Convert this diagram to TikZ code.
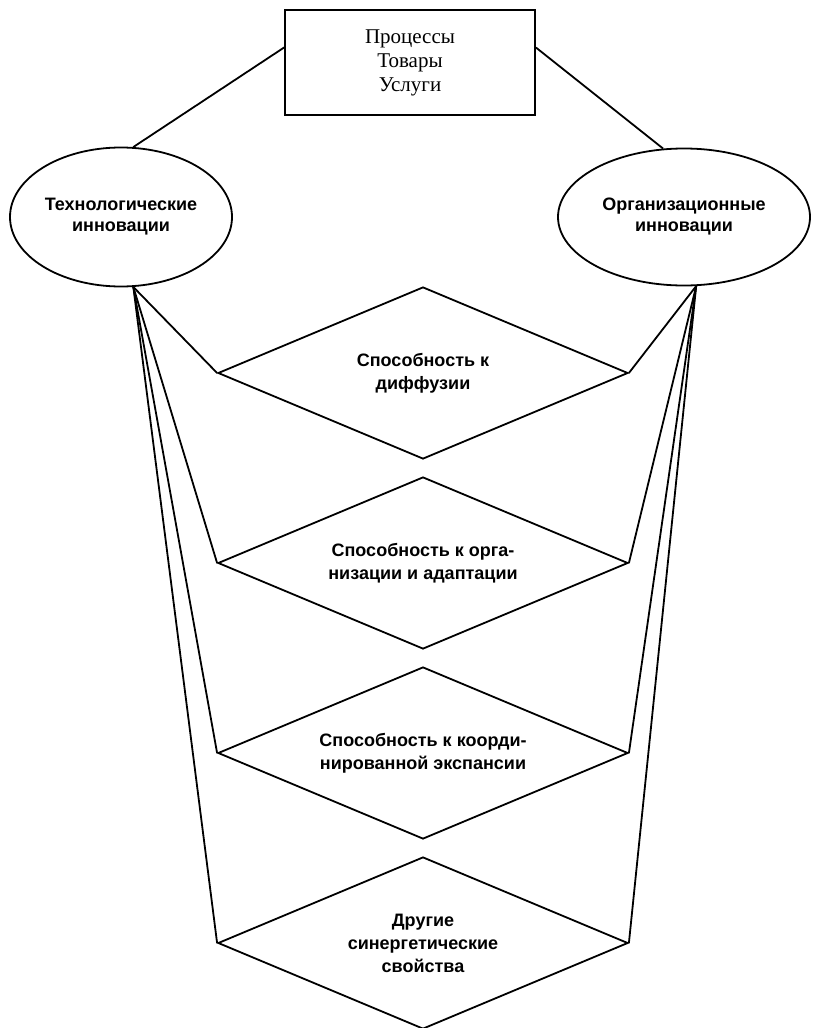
\documentclass[tikz,border=0pt]{standalone}
\usepackage{fontspec}
\setmainfont{Liberation Serif}
\setsansfont{Liberation Sans}
\usetikzlibrary{shapes.geometric, positioning, calc}

\begin{document}
\begin{tikzpicture}[x=0.5pt,y=-0.5pt,line width=0.9pt,
    kasten/.style={draw,rectangle,minimum width=125pt,minimum height=52.5pt,align=center,font=\fontsize{10.5}{12}\selectfont},
    oval/.style={draw,ellipse,inner sep=0pt,align=center,font=\sffamily\bfseries\fontsize{9}{10.5}\selectfont},
    romb/.style={draw,diamond,aspect=2.4,minimum width=205pt,minimum height=86pt,inner sep=0pt,align=center,font=\sffamily\bfseries\fontsize{9}{11.5}\selectfont}]
    \useasboundingbox (0,0) rectangle (814,1028);
    % obekt innovacij
    \node[kasten] (prod) at (410,62.5) {Процессы\\Товары\\Услуги};
    \node[oval,minimum width=111pt,minimum height=69.5pt] (tech) at (121,217) {Технологические\\инновации};
    \node[oval,minimum width=126pt,minimum height=68.5pt] (org) at (684,217) {Организационные\\инновации};
    % svojstva
    \foreach \i/\yy/\txt in {1/373/{Способность к\\диффузии},
        2/563/{Способность к орга-\\низации и адаптации},
        3/753/{Способность к коорди-\\нированной экспансии},
        4/943/{Другие\\синергетические\\свойства}}
        \node[romb] (d\i) at (423,\yy) {\txt};
    % svyazi
    \draw ([yshift=7.5pt]prod.west) -- (tech.80);
    \draw ([yshift=7.5pt]prod.east) -- (org.107);
    \foreach \i in {1,...,4} {
        \draw (tech.-80) -- (d\i.west);
        \draw (org.-80) -- (d\i.east);
    }
\end{tikzpicture}
\end{document}
